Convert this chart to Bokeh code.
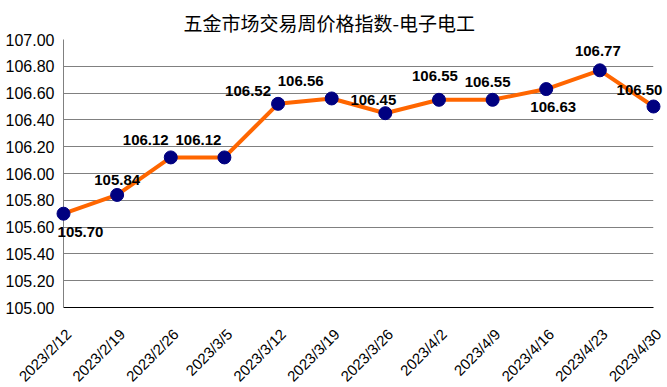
import math
from bokeh.plotting import figure
from bokeh.models import ColumnDataSource, FixedTicker, Range1d, Title
from bokeh.core.properties import value
from bokeh.embed import file_html
from bokeh.resources import INLINE

# ---- data ----
dates = ["2023/2/12", "2023/2/19", "2023/2/26", "2023/3/5", "2023/3/12", "2023/3/19",
         "2023/3/26", "2023/4/2", "2023/4/9", "2023/4/16", "2023/4/23", "2023/4/30"]
index_values = [105.70, 105.84, 106.12, 106.12, 106.52, 106.56,
                106.45, 106.55, 106.55, 106.63, 106.77, 106.50]
y_ticks = [105.0 + 0.2 * i for i in range(11)]
title_text = "五金市场交易周价格指数-电子电工"

# label placement (screen px offsets from each point)
label_dx = [17, 0, -25, -26, -30, -31, -12, -4, -5, 7, -2, -14]
label_dy = [18, -15, -17, -17, -13, -17, -13, -24, -18, 18, -19, -17]

xs = list(range(len(dates)))
src = ColumnDataSource(dict(
    x=xs, y=index_values,
    lbl=["%.2f" % v for v in index_values],
    dx=label_dx, dy=label_dy,
))
ymin = y_ticks[0]
cat_src = ColumnDataSource(dict(x=xs, y=[ymin] * len(xs), d=dates))

FONT = "Liberation Sans"

p = figure(width=666, height=385, output_backend="svg", toolbar_location=None,
           x_range=Range1d(0, len(dates) - 1), y_range=Range1d(105.0, 107.0),
           min_border_left=63, min_border_right=13, min_border_top=39, min_border_bottom=78)
p.outline_line_color = None
p.background_fill_color = "white"
p.border_fill_color = "white"

p.add_layout(Title(text=title_text, align="left", offset=120, standoff=8,
                   text_font="Noto Sans CJK SC", text_font_size="19px",
                   text_font_style="normal", text_color="#000000"), "above")

# y axis
p.yaxis.ticker = FixedTicker(ticks=y_ticks)
p.yaxis.major_label_overrides = {t: "%.2f" % t for t in y_ticks}
p.yaxis.axis_line_color = "#808080"
p.yaxis.major_tick_line_color = None
p.yaxis.minor_tick_line_color = None
p.yaxis.major_tick_out = 0
p.yaxis.major_tick_in = 0
p.yaxis.major_label_standoff = 9
p.yaxis.major_label_text_font = FONT
p.yaxis.major_label_text_font_size = "16px"
p.yaxis.major_label_text_color = "#000000"

# x axis: line only; category labels drawn as rotated text below it
p.xaxis.ticker = FixedTicker(ticks=[])
p.xaxis.axis_line_color = "#000000"
p.xaxis.major_tick_line_color = None
p.xaxis.minor_tick_line_color = None
p.xaxis.major_label_text_font_size = "0px"

p.xgrid.grid_line_color = None
p.ygrid.ticker = FixedTicker(ticks=y_ticks)
p.ygrid.grid_line_color = "#808080"
p.ygrid.grid_line_width = 1

p.text("x", "y", text="d", source=cat_src, angle=math.pi / 4,
       x_offset=-1, y_offset=18, text_align="right", text_baseline="top",
       text_font=value(FONT), text_font_size="15px", text_color="#000000",
       level="overlay")

p.line("x", "y", source=src, line_color="#FF6600", line_width=4, level="overlay")
p.scatter("x", "y", source=src, size=13, fill_color="#000080",
          line_color="#000080", level="overlay")
p.text("x", "y", text="lbl", source=src, x_offset="dx", y_offset="dy",
       text_align="center", text_baseline="middle",
       text_font=value(FONT), text_font_size="15px", text_font_style="bold",
       text_color="#000000", level="overlay")

open("out.html", "w").write(file_html(p, INLINE))
